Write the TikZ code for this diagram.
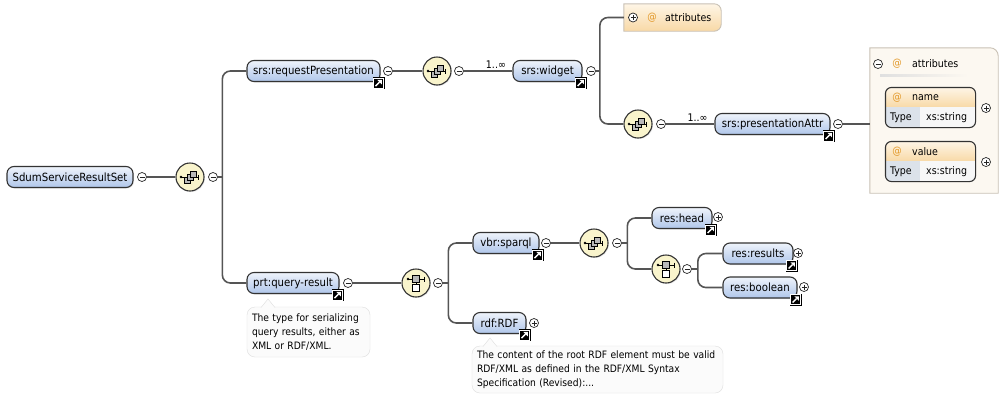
\documentclass[tikz,border=0pt]{standalone}
\usepackage{fontspec}
\setmainfont{DejaVu Sans Condensed}
\usetikzlibrary{positioning,arrows,shadows}

\definecolor{linegray}{HTML}{555555}
\definecolor{elemtop}{HTML}{EEF3FB}
\definecolor{elembot}{HTML}{AFC6EA}
\definecolor{seqfill}{HTML}{F9F4CC}
\definecolor{attrtop}{HTML}{FEF5E6}
\definecolor{attrbot}{HTML}{F8D9A6}
\definecolor{panelfill}{HTML}{FCF8F1}
\definecolor{panelline}{HTML}{C9C1B5}
\definecolor{typecell}{HTML}{DCE2EA}
\definecolor{notefill}{HTML}{FBFBFB}
\definecolor{noteline}{HTML}{DEDEDE}
\definecolor{atsign}{HTML}{E39A2C}

\begin{document}
\begin{tikzpicture}[x=1pt,y=-1pt,
  conn/.style={draw=linegray, line width=1.6},
  elem/.style={draw=black!80, line width=1.1, rounded corners=7, top color=elemtop,
    bottom color=elembot, minimum height=21, inner sep=0, font=\fontsize{11.3}{13}\selectfont,
    drop shadow={opacity=0.18, shadow xshift=1pt, shadow yshift=-1pt}},
  compositor/.style={circle, draw=black!80, line width=1.1, fill=seqfill, minimum size=28,
    inner sep=0, drop shadow={opacity=0.18, shadow xshift=1pt, shadow yshift=-1pt}},
  toggle/.style={circle, draw=black!85, line width=0.7, fill=white, minimum size=9, inner sep=0},
  minus/.style={toggle, path picture={
    \draw[line width=0.8] ([xshift=2]path picture bounding box.west) -- ([xshift=-2]path picture bounding box.east);}},
  plus/.style={toggle, path picture={
    \draw[line width=0.8] ([xshift=2]path picture bounding box.west) -- ([xshift=-2]path picture bounding box.east);
    \draw[line width=0.8] ([yshift=-2]path picture bounding box.north) -- ([yshift=2]path picture bounding box.south);}},
  small/.style={font=\fontsize{10.5}{12}\selectfont, inner sep=0},
  atmark/.style={small, text=atsign},
  mult/.style={font=\fontsize{10.5}{12}\selectfont, inner sep=1.5},
  note/.style={draw=noteline, fill=notefill, rounded corners=8, align=left,
    font=\fontsize{10.2}{14}\selectfont, inner xsep=5, inner ysep=0},
  attrbox/.style={draw=black!80, line width=1.1, rounded corners=6, fill=white,
    drop shadow={opacity=0.18, shadow xshift=1pt, shadow yshift=-1pt}},
  seqmark/.pic={
    \draw[line width=0.7] (-9,0) -- (9,0);
    \fill (-9,0) circle (1.3);
    \draw[line width=0.7] (8.5,-2.5) -- (8.5,2.5);
    \draw[fill=gray!55, line width=0.6] (-6,0) rectangle (0,6);
    \draw[fill=gray!55, line width=0.6] (-3,-3) rectangle (3,3);
    \draw[fill=gray!55, line width=0.6] (0,-6) rectangle (6,0);},
  choicemark/.pic={
    \draw[line width=0.7] (-8,-4) -- (8,-4);
    \fill (-8,-4) circle (1.3);
    \draw[line width=0.7] (8,-6.5) -- (8,-1.5);
    \draw[fill=gray!55, line width=0.6] (-3.5,-7.5) rectangle (3.5,-0.5);
    \draw[line width=0.6] (0,-0.5) -- (0,1.5);
    \draw[fill=white, line width=0.6] (-3.5,1.5) rectangle (3.5,8);},
  jump/.pic={
    \draw[black, line width=0.4] (-5.6,-5.6) rectangle (5.6,5.6);
    \draw[fill=black, draw=white, line width=0.8] (-5,-5) rectangle (5,5);
    \draw[white, line width=1.4] (-3,3) -- (1,-1);
    \fill[white] (3.2,-3.2) -- (-1.2,-3.2) -- (3.2,1.2) -- cycle;}
]
\useasboundingbox (0,0) rectangle (1002,400);
\fill[white] (0,0) rectangle (1002,400);

% root and first sequence
\draw (70,177) node[elem, minimum width=126] (root) {SdumServiceResultSet};
\draw (142,177) node[minus] (rootminus) {};
\draw (190,177) node[compositor] (seq1) {};
\pic at (seq1) {seqmark};
\draw (213,177) node[minus] (seq1minus) {};
\draw[conn] (rootminus) -- (seq1);

% srs:requestPresentation branch
\draw (313.5,71) node[elem, minimum width=133] (reqpres) {srs:requestPresentation};
\pic at ([xshift=-2,yshift=-1]reqpres.south east) {jump};
\draw (388,71) node[minus] (reqminus) {};
\draw (437,71) node[compositor] (seq2) {};
\pic at (seq2) {seqmark};
\draw (459,71) node[minus] (seq2minus) {};
\draw (547.5,71) node[elem, minimum width=69] (widget) {srs:widget};
\pic at ([xshift=-2,yshift=-1]widget.south east) {jump};
\draw (591,71) node[minus] (widgetminus) {};
\draw[conn] (reqminus) -- (seq2);
\draw[conn] (seq2minus) -- node[mult, above, pos=0.66] (mult1) {1..∞} (widget);

% widget children
\draw (672.5,17.5) node[minimum width=97, minimum height=27, inner sep=0] (attrs) {};
\draw[draw=panelline, top color=attrtop, bottom color=attrbot, line width=0.9]
  (attrs.south west) -- (attrs.north west) [rounded corners=7] -- (attrs.north east)
  -- (attrs.south east) [sharp corners] -- cycle;
\draw (633,17.5) node[plus] (attrsplus) {};
\draw (652,17.5) node[atmark] (attrsat) {@};
\draw (665,17.5) node[small, anchor=west] (attrstext) {attributes};
\draw (638,124) node[compositor] (seq3) {};
\pic at (seq3) {seqmark};
\draw (661,124) node[minus] (seq3minus) {};
\draw (772.5,124) node[elem, minimum width=115] (presattr) {srs:presentationAttr};
\pic at ([xshift=-2,yshift=-1]presattr.south east) {jump};
\draw (838,124) node[minus] (presminus) {};
\draw[conn] (widgetminus.east) -- ++(4,0) coordinate (split2);
\draw[conn, rounded corners=8] (attrs.west) -| (split2) |- (seq3.west);
\draw[conn] (seq3minus) -- node[mult, above, pos=0.65] (mult2) {1..∞} (presattr);

% attribute panel
\draw (934,120.5) node[minimum width=128, minimum height=145, inner sep=0] (panel) {};
\draw[draw=panelline, fill=panelfill, line width=0.9]
  (panel.south west) -- (panel.north west) [rounded corners=8] -- (panel.north east)
  [sharp corners] -- (panel.south east) -- cycle;
\draw[conn] (presminus) -- (presminus -| panel.west);
\draw (878,64) node[minus] (panelminus) {};
\draw (897,64) node[atmark] (panelat) {@};
\draw (912,64) node[small, anchor=west] (paneltext) {attributes};
\shade[left color=gray!25, right color=panelfill] (880,74.5) rectangle (968,76.5);

\draw (930.5,107.5) node[attrbox, minimum width=89, minimum height=39] (namebox) {};
\begin{scope}
  \clip[rounded corners=6] (namebox.north west) rectangle (namebox.south east);
  \shade[top color=attrtop, bottom color=attrbot] (namebox.north west) rectangle ([yshift=-20]namebox.north east);
  \fill[typecell] ([yshift=-20]namebox.north west) rectangle ([xshift=35]namebox.south west);
  \fill[gray!6] ([xshift=35,yshift=-20]namebox.north west) rectangle (namebox.south east);
\end{scope}
\draw[black!80, line width=1.1, rounded corners=6] (namebox.north west) rectangle (namebox.south east);
\draw (897,98) node[atmark] (nameat) {@};
\draw (912,98) node[small, anchor=west] (nametext) {name};
\draw (890,118) node[small, anchor=west] (nametype) {Type};
\draw (926,118) node[small, anchor=west] (namestring) {xs:string};
\draw (986,108) node[plus] (nameplus) {};

\draw (930.5,161.5) node[attrbox, minimum width=89, minimum height=39] (valuebox) {};
\begin{scope}
  \clip[rounded corners=6] (valuebox.north west) rectangle (valuebox.south east);
  \shade[top color=attrtop, bottom color=attrbot] (valuebox.north west) rectangle ([yshift=-20]valuebox.north east);
  \fill[typecell] ([yshift=-20]valuebox.north west) rectangle ([xshift=35]valuebox.south west);
  \fill[gray!6] ([xshift=35,yshift=-20]valuebox.north west) rectangle (valuebox.south east);
\end{scope}
\draw[black!80, line width=1.1, rounded corners=6] (valuebox.north west) rectangle (valuebox.south east);
\draw (897,152) node[atmark] (valueat) {@};
\draw (912,152) node[small, anchor=west] (valuetext) {value};
\draw (890,172) node[small, anchor=west] (valuetype) {Type};
\draw (926,172) node[small, anchor=west] (valuestring) {xs:string};
\draw (986,162) node[plus] (valueplus) {};

% prt:query-result branch
\draw (293,283) node[elem, minimum width=92] (query) {prt:query-result};
\pic at ([xshift=-2,yshift=-1]query.south east) {jump};
\draw (348,283) node[minus] (queryminus) {};
\draw (416,283) node[compositor] (choice1) {};
\pic at (choice1) {choicemark};
\draw (438,283) node[minus] (choice1minus) {};
\draw[conn] (seq1minus.east) -- ++(4.5,0) coordinate (split1);
\draw[conn, rounded corners=8] (reqpres.west) -| (split1) |- (query.west);
\draw[conn] (queryminus) -- (choice1);

\draw (308.5,332) node[note, text width=113, minimum height=50] (note1)
  {The type for serializing\\query results, either as\\XML or RDF/XML.};
\fill[notefill] (261,307.8) -- (268,299) -- (275,307.8) -- cycle;
\draw[noteline] (261,307.5) -- (268,299) -- (275,307.5);

% choice children
\draw (506,243) node[elem, minimum width=66] (sparql) {vbr:sparql};
\pic at ([xshift=-2,yshift=-1]sparql.south east) {jump};
\draw (546,243) node[minus] (sparqlminus) {};
\draw (499.5,323) node[elem, minimum width=53] (rdf) {rdf:RDF};
\pic at ([xshift=-2,yshift=-1]rdf.south east) {jump};
\draw (534,323) node[plus] (rdfplus) {};
\draw[conn] (choice1minus.east) -- ++(5.5,0) coordinate (split3);
\draw[conn, rounded corners=8] (sparql.west) -| (split3) |- (rdf.west);

\draw (597.5,369.5) node[note, text width=241, minimum height=47] (note2)
  {The content of the root RDF element must be valid\\RDF/XML as defined in the RDF/XML Syntax\\Specification (Revised):...};
\fill[notefill] (483,346.8) -- (490,338) -- (497,346.8) -- cycle;
\draw[noteline] (483,346.5) -- (490,338) -- (497,346.5);

% vbr:sparql content
\draw (594,243) node[compositor] (seq4) {};
\pic at (seq4) {seqmark};
\draw (617,243) node[minus] (seq4minus) {};
\draw[conn] (sparqlminus) -- (seq4);
\draw (682,218) node[elem, minimum width=60] (head) {res:head};
\pic at ([xshift=-2,yshift=-1]head.south east) {jump};
\draw (718,217) node[plus] (headplus) {};
\draw (666,269) node[compositor] (choice2) {};
\pic at (choice2) {choicemark};
\draw (687,269) node[minus] (choice2minus) {};
\draw[conn] (seq4minus.east) -- ++(5.5,0) coordinate (split4);
\draw[conn, rounded corners=8] (head.west) -| (split4) |- (choice2.west);

\draw (758,253.5) node[elem, minimum width=70] (results) {res:results};
\pic at ([xshift=-2,yshift=-1]results.south east) {jump};
\draw (798,253) node[plus] (resultsplus) {};
\draw (760,287.5) node[elem, minimum width=74] (boolean) {res:boolean};
\pic at ([xshift=-2,yshift=-1]boolean.south east) {jump};
\draw (804,287) node[plus] (booleanplus) {};
\draw[conn] (choice2minus.east) -- ++(6,0) coordinate (split5);
\draw[conn, rounded corners=8] (results.west) -| (split5) |- (boolean.west);
\end{tikzpicture}
\end{document}
